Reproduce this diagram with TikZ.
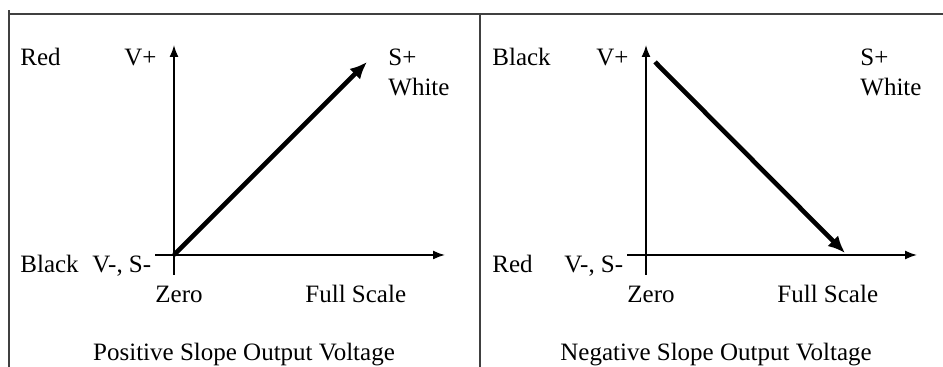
\documentclass[tikz,border=0pt]{standalone}
\usepackage{fontspec}
\setmainfont{Liberation Serif}
\usetikzlibrary{arrows.meta}

\begin{document}
\begin{tikzpicture}[
        x=0.5pt, y=-0.5pt,
        font=\fontsize{12.5}{15}\selectfont,
        rotulo/.style={anchor=base west, inner sep=0pt},
        eixo/.style={line width=0.8pt, -{Latex[length=6pt, width=4.5pt]}},
        rampa/.style={line width=2.3pt, -{Latex[length=8.5pt, width=7.5pt]}},
        moldura/.style={line width=1pt, draw=black!75}]
        \useasboundingbox (0,0) rectangle (943,367);
        \coordinate (mSE) at (9,10);
        \coordinate (mTE) at (9,14);
        \coordinate (mTD) at (943,14);
        \coordinate (mIE) at (9,367);
        \coordinate (mTM) at (480,14);
        \coordinate (mIM) at (480,367);
        \draw[moldura] (mIE) -- (mSE);
        \draw[moldura] (mTE) -- (mTD);
        \draw[moldura] (mTM) -- (mIM);
        \foreach \dx/\i/\cimo/\baixo/\titulo/\ax/\ay/\bx/\by in {
            0/1/Red/Black/Positive/174/255/367/62,
            472/2/Black/Red/Negative/183/62/373/253}{
            \begin{scope}[shift={(\dx,0)}]
                \coordinate (yb\i) at (174,275);
                \coordinate (yt\i) at (174,45);
                \coordinate (xl\i) at (155,255);
                \coordinate (xr\i) at (445,255);
                \coordinate (ra\i) at (\ax,\ay);
                \coordinate (rb\i) at (\bx,\by);
                \node[rotulo] (cs\i) at (20,66) {\cimo};
                \node[rotulo] (vp\i) at (124,66) {V+};
                \node[rotulo] (sp\i) at (388,66) {S+};
                \node[rotulo] (wh\i) at (388,96) {White};
                \node[rotulo] (ci\i) at (20,273) {\baixo};
                \node[rotulo] (vm\i) at (92,273) {V-, S-};
                \node[rotulo] (ze\i) at (155,303) {Zero};
                \node[rotulo] (fs\i) at (305,303) {Full Scale};
                \node[anchor=base, inner sep=0pt] (ti\i) at (244,361) {\titulo\ Slope Output Voltage};
                \draw[eixo] (yb\i) -- (yt\i);
                \draw[eixo] (xl\i) -- (xr\i);
                \draw[rampa] (ra\i) -- (rb\i);
            \end{scope}
        }
    \end{tikzpicture}
\end{document}
